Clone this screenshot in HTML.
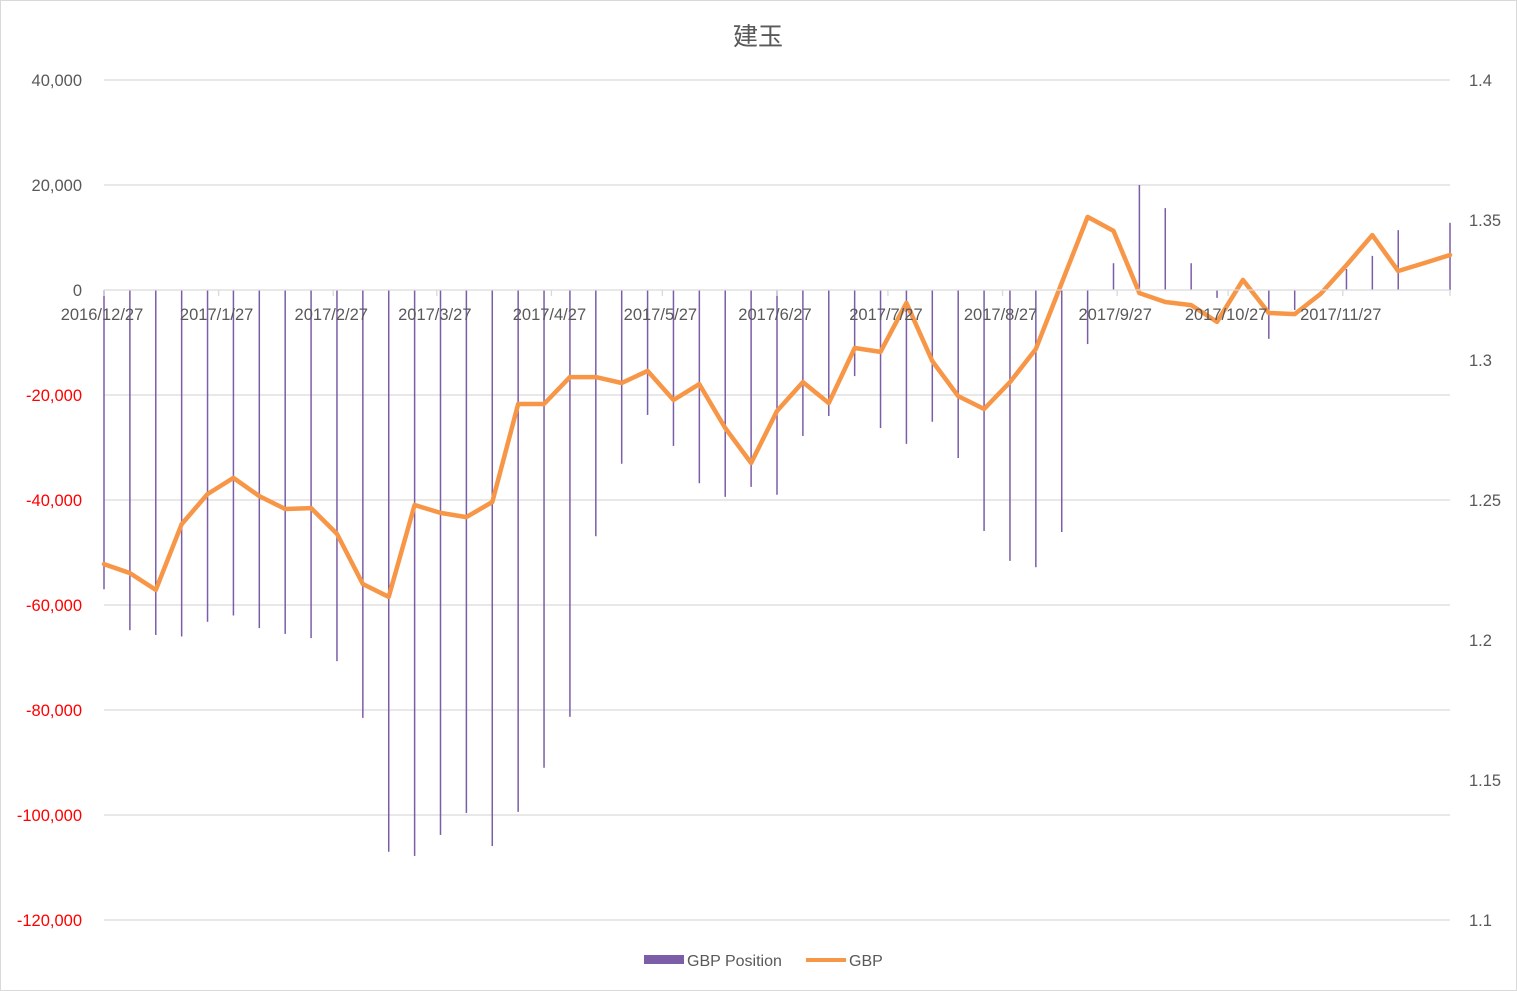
<!DOCTYPE html>
<html><head><meta charset="utf-8"><style>
html,body{margin:0;padding:0;background:#fff;}
svg{display:block;font-family:"Liberation Sans","Noto Sans CJK JP",sans-serif;}
</style></head><body>
<svg id="chart" width="1517" height="991">
<rect x="0.5" y="0.5" width="1516" height="990" fill="#fff" stroke="#d9d9d9"/>
<text x="758" y="45" text-anchor="middle" font-size="25" fill="#595959">建玉</text>
<g id="grid"></g><g id="bars"></g><g id="line"></g><g id="axes"></g>
<g>
<rect x="644" y="955" width="40" height="9" fill="#7b5ea7"/>
<text x="687" y="966" font-size="16" fill="#595959">GBP Position</text>
<line x1="806" y1="960" x2="846" y2="960" stroke="#f79646" stroke-width="4"/>
<text x="849" y="966" font-size="16" fill="#595959">GBP</text>
</g>
</svg>
<script>
const positions=[-57000,-64800,-65700,-66000,-63200,-62000,-64400,-65500,-66300,-70700,-81500,-107000,-107800,-103800,-99600,-105900,-99400,-91000,-81300,-46900,-33100,-23800,-29700,-36800,-39400,-37500,-39000,-27800,-24000,-16400,-26300,-29300,-25100,-32000,-45900,-51600,-52800,-46100,-10300,5100,20000,15600,5100,-1500,0,-9300,-3800,0,4000,6500,11400,0,12800];
const gbp=[1.2271,1.2239,1.2179,1.2414,1.2521,1.2579,1.2514,1.2468,1.2471,1.2379,1.22,1.2154,1.2482,1.2454,1.2439,1.2493,1.2843,1.2843,1.2939,1.2939,1.2918,1.2961,1.2857,1.2914,1.2757,1.2632,1.2818,1.2921,1.2846,1.3043,1.3029,1.3204,1.2996,1.2871,1.2825,1.2921,1.3039,1.3275,1.3511,1.3461,1.3239,1.3207,1.3196,1.3136,1.3286,1.3168,1.3164,1.3236,1.3339,1.3446,1.3318,1.3346,1.3375];
const leftTicks=[40000,20000,0,-20000,-40000,-60000,-80000,-100000,-120000];
const rightTicks=[1.4,1.35,1.3,1.25,1.2,1.15,1.1];
const dateLabels=["2016/12/27","2017/1/27","2017/2/27","2017/3/27","2017/4/27","2017/5/27","2017/6/27","2017/7/27","2017/8/27","2017/9/27","2017/10/27","2017/11/27"];
const labelDays=[0,31,62,90,121,151,182,212,243,274,304,335];
const NS="http://www.w3.org/2000/svg";
const X0=104,X1=1450,Ytop=80,Ybot=920;
const n=positions.length;
const xIdx=i=>X0+(X1-X0)*i/(n-1);
const xDay=d=>X0+(X1-X0)*d/(7*(n-1));
const yL=v=>Ytop+(40000-v)/160000*(Ybot-Ytop);
const yR=v=>Ytop+(1.4-v)/0.3*(Ybot-Ytop);
function mk(tag,attrs,parent){const e=document.createElementNS(NS,tag);for(const k in attrs)e.setAttribute(k,attrs[k]);parent.appendChild(e);return e;}
const grid=document.getElementById('grid'),axes=document.getElementById('axes');
leftTicks.forEach(t=>{
 const y=yL(t);
 if(t!==0){const g=mk('line',{x1:X0,x2:X1,y1:y,y2:y,stroke:'#d9d9d9','stroke-width':1.3},grid);
 
 }
 const tx=mk('text',{x:82,y:y+6,'text-anchor':'end','font-size':16.5,fill:t<0?'#ff0000':'#595959'},axes);
 tx.textContent=t.toLocaleString('en-US');
 
 
});
rightTicks.forEach(t=>{
 const tx=mk('text',{x:1469,y:yR(t)+6,'font-size':16.5,fill:'#595959'},axes);
 tx.textContent=String(t);
 
 
});
const bars=document.getElementById('bars');
positions.forEach((v,i)=>{
 if(v===0)return;
 const x=xIdx(i);const y=yL(v),y0=yL(0);
 const r=mk('rect',{x:x-0.75,y:Math.min(y,y0),width:1.5,height:Math.abs(y-y0),fill:'#7b5ea7'},bars);
 
 
});
const z=mk('line',{x1:X0,x2:X1,y1:yL(0),y2:yL(0),stroke:'#d9d9d9','stroke-width':1.3},axes);


const tickDays=labelDays.concat([365]);
tickDays.forEach(d=>{const x=Math.min(xDay(d),X1);const t=mk('line',{x1:x,x2:x,y1:yL(0),y2:yL(0)+6,stroke:'#d9d9d9','stroke-width':1.3},axes);
 
 });
dateLabels.forEach((l,i)=>{
 const tx=mk('text',{x:xDay(labelDays[i])-2,y:320,'text-anchor':'middle','font-size':16.5,fill:'#595959'},axes);
 tx.textContent=l;
 
 
});
const pts=gbp.map((v,i)=>xIdx(i).toFixed(1)+','+yR(v).toFixed(1)).join(' ');
const pl=mk('polyline',{points:pts,fill:'none',stroke:'#f79646','stroke-width':4.5,'stroke-linejoin':'round','stroke-linecap':'round'},document.getElementById('line'));


</script>
</body></html>
